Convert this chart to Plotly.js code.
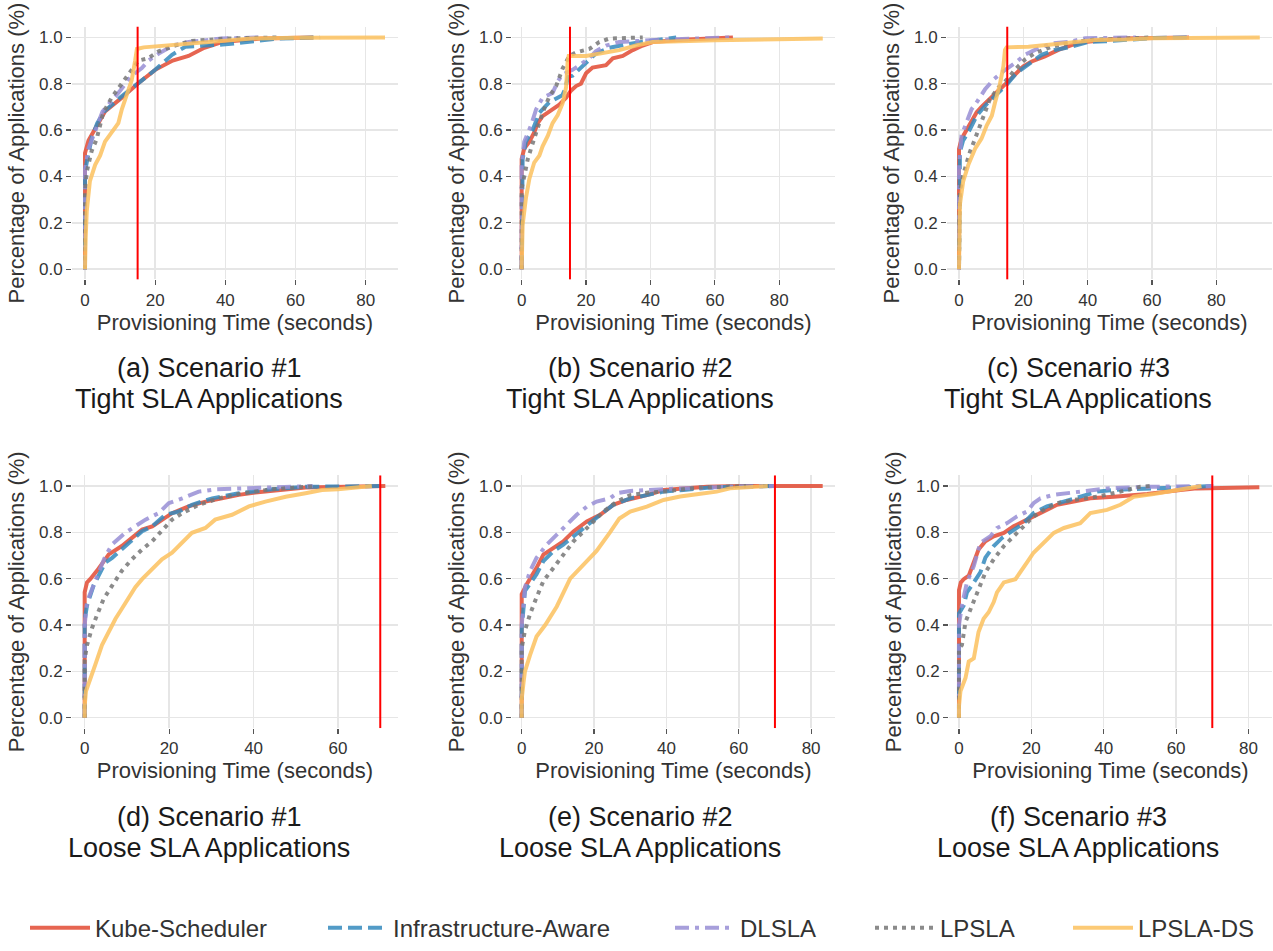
<!DOCTYPE html>
<html>
<head>
<meta charset="utf-8">
<script src="https://cdn.plot.ly/plotly-3.0.1.min.js"></script>
<style>html,body{margin:0;padding:0;background:#fff;}#chart{width:1273px;height:951px;}</style>
</head>
<body>
<div id="chart"></div>
<script>
// ---------------- DATA ----------------
const seriesNames = ['Kube-Scheduler', 'Infrastructure-Aware', 'DLSLA', 'LPSLA', 'LPSLA-DS'];
const captionLabels = ['(a) Scenario #1', '(b) Scenario #2', '(c) Scenario #3', '(d) Scenario #1', '(e) Scenario #2', '(f) Scenario #3'];
const captionSubs = ['Tight SLA Applications', 'Tight SLA Applications', 'Tight SLA Applications', 'Loose SLA Applications', 'Loose SLA Applications', 'Loose SLA Applications'];
const slaThreshold = [15, 15, 15, 70, 70, 70];
const xTickVals = [0, 20, 40, 60, 80];
const yTickVals = [0, 0.2, 0.4, 0.6, 0.8, 1.0];
const xTitle = 'Provisioning Time (seconds)';
const yTitle = 'Percentage of Applications (%)';

// (a) Scenario #1, tight SLA
const a_kube_t = [0, 0, 1, 2.4, 5.7, 10.5, 15, 20, 25, 29.5, 34, 39, 50, 65];
const a_kube_p = [0, 0.50, 0.555, 0.59, 0.68, 0.74, 0.80, 0.86, 0.90, 0.92, 0.955, 0.98, 0.995, 1.0];
const a_infra_t = [0, 0, 1, 2, 3.5, 5.5, 10, 15, 20, 24.8, 28.6, 40, 50, 55, 67];
const a_infra_p = [0, 0.42, 0.50, 0.57, 0.63, 0.68, 0.74, 0.80, 0.86, 0.925, 0.96, 0.97, 0.985, 0.995, 1.0];
const a_dlsla_t = [0, 0, 1, 3, 5, 10, 13, 16.2, 18.1, 21, 25, 29.5, 39, 50];
const a_dlsla_p = [0, 0.43, 0.52, 0.60, 0.68, 0.77, 0.83, 0.868, 0.90, 0.93, 0.965, 0.98, 0.995, 1.0];
const a_lpsla_t = [0, 0, 0.5, 1.4, 1.9, 3.3, 5.2, 7.6, 9.5, 11.4, 13.3, 15.2, 18, 21, 26.7, 30.5, 40, 55];
const a_lpsla_p = [0, 0.33, 0.42, 0.47, 0.51, 0.56, 0.675, 0.74, 0.78, 0.825, 0.86, 0.90, 0.91, 0.94, 0.97, 0.985, 0.995, 1.0];
const a_ds_t = [0, 0, 0.2, 0.5, 1.4, 2.9, 4.3, 5.7, 7.6, 9.5, 10.5, 11.9, 13.3, 14.3, 14.8, 16.7, 25, 34, 47.6, 60, 85.5];
const a_ds_p = [0, 0.02, 0.135, 0.25, 0.38, 0.45, 0.49, 0.55, 0.59, 0.63, 0.69, 0.75, 0.815, 0.90, 0.95, 0.957, 0.967, 0.98, 0.995, 0.998, 1.0];

// (b) Scenario #2, tight SLA
const b_kube_t = [0, 0, 0.8, 2.4, 3.9, 5, 6.5, 9.6, 11.7, 13.8, 15.3, 16.9, 18.4, 20, 22, 26.2, 28.3, 31.4, 34.5, 37.6, 40.7, 50, 65.6];
const b_kube_p = [0, 0.475, 0.52, 0.55, 0.59, 0.63, 0.66, 0.69, 0.71, 0.74, 0.77, 0.79, 0.80, 0.845, 0.87, 0.88, 0.91, 0.92, 0.945, 0.965, 0.98, 0.99, 1.0];
const b_infra_t = [0, 0, 0.3, 1.3, 3.4, 5.5, 8.6, 11.2, 12.6, 13.4, 14.4, 15.8, 18.4, 21, 23, 27.2, 32.4, 39.6, 48];
const b_infra_p = [0, 0.42, 0.475, 0.55, 0.60, 0.675, 0.72, 0.74, 0.75, 0.773, 0.83, 0.835, 0.87, 0.90, 0.93, 0.955, 0.97, 0.985, 1.0];
const b_dlsla_t = [0, 0, 0.8, 2.9, 4.5, 6.5, 9.6, 11.2, 12.7, 15.8, 17.9, 21, 23, 26.2, 30.3, 35.5, 42.7, 65];
const b_dlsla_p = [0, 0.45, 0.55, 0.62, 0.69, 0.74, 0.76, 0.81, 0.84, 0.86, 0.88, 0.91, 0.94, 0.965, 0.98, 0.985, 0.99, 1.0];
const b_lpsla_t = [0, 0, 0.8, 1.9, 2.9, 4.5, 6.5, 8.6, 10.7, 12.7, 14.8, 16.9, 21, 24.1, 27.2, 37.6];
const b_lpsla_p = [0, 0.35, 0.40, 0.475, 0.52, 0.59, 0.675, 0.745, 0.79, 0.865, 0.92, 0.935, 0.95, 0.98, 0.995, 1.0];
const b_ds_t = [0, 0, 0.3, 1.3, 2.4, 3.9, 5.5, 6.5, 8.1, 9.6, 11.2, 12.7, 13.8, 14.3, 14.6, 20, 24.1, 30.3, 35.5, 40.7, 52, 60, 93.5];
const b_ds_p = [0, 0.1, 0.19, 0.305, 0.39, 0.46, 0.49, 0.53, 0.575, 0.63, 0.665, 0.715, 0.785, 0.90, 0.92, 0.92, 0.93, 0.945, 0.965, 0.98, 0.985, 0.988, 0.995];

// (c) Scenario #3, tight SLA
const c_kube_t = [0, 0, 0.8, 1.9, 3.4, 5.5, 7, 10.2, 12.7, 14.9, 17.4, 20, 22.6, 26.7, 30.9, 35, 39.2, 50, 71.5];
const c_kube_p = [0, 0.518, 0.563, 0.59, 0.627, 0.677, 0.70, 0.74, 0.776, 0.805, 0.84, 0.875, 0.896, 0.918, 0.946, 0.967, 0.98, 0.995, 1.0];
const c_infra_t = [0, 0, 0.3, 1.3, 2.9, 5.5, 8.1, 11.2, 14.9, 17.9, 21.6, 25.7, 29.8, 35, 40.2, 45.4, 60, 71.5];
const c_infra_p = [0, 0.40, 0.506, 0.556, 0.59, 0.662, 0.705, 0.748, 0.797, 0.847, 0.882, 0.925, 0.946, 0.96, 0.98, 0.983, 0.997, 1.0];
const c_dlsla_t = [0, 0, 0.8, 2.4, 3.9, 5.5, 8.1, 10.7, 13.8, 17.4, 20.5, 23.6, 28.8, 34, 39.2, 55];
const c_dlsla_p = [0, 0.45, 0.577, 0.634, 0.69, 0.72, 0.776, 0.818, 0.854, 0.889, 0.925, 0.946, 0.974, 0.98, 0.996, 1.0];
const c_lpsla_t = [0, 0, 0.3, 1.3, 2.4, 3.4, 5, 6.5, 8.1, 9.6, 12.2, 14.9, 17.4, 20.5, 23.6, 28.8, 34, 40.2, 60];
const c_lpsla_p = [0, 0.30, 0.336, 0.407, 0.464, 0.506, 0.563, 0.62, 0.677, 0.733, 0.783, 0.818, 0.861, 0.904, 0.932, 0.96, 0.974, 0.989, 1.0];
const c_ds_t = [0, 0, 0.3, 1.3, 2.9, 5, 7, 8.6, 10.2, 11.2, 12.7, 13.8, 14.3, 14.8, 21.6, 31.9, 42.3, 51.6, 60, 93.5];
const c_ds_p = [0, 0.17, 0.28, 0.379, 0.45, 0.52, 0.563, 0.62, 0.662, 0.719, 0.797, 0.875, 0.946, 0.957, 0.96, 0.974, 0.989, 0.991, 0.996, 1.0];

// (d) Scenario #1, loose SLA
const d_kube_t = [0, 0, 0.55, 1.3, 2.9, 4.5, 5.7, 8.8, 11.2, 13.6, 16, 18.3, 20.7, 24.6, 28.6, 32.5, 36.5, 40.4, 46, 52.3, 71.2];
const d_kube_p = [0, 0.541, 0.584, 0.598, 0.634, 0.677, 0.705, 0.741, 0.776, 0.812, 0.826, 0.855, 0.883, 0.912, 0.933, 0.947, 0.962, 0.972, 0.983, 0.994, 1.0];
const d_infra_t = [0, 0, 0.55, 1.3, 2.1, 3.3, 4.9, 6.5, 8.8, 11.2, 13.6, 16, 19.1, 22.3, 25.4, 30.2, 36.5, 44.4, 52.3, 71];
const d_infra_p = [0, 0.42, 0.484, 0.527, 0.57, 0.613, 0.67, 0.69, 0.726, 0.762, 0.805, 0.826, 0.876, 0.89, 0.919, 0.947, 0.969, 0.986, 0.997, 1.0];
const d_dlsla_t = [0, 0, 0.55, 1.7, 3.3, 4.9, 6.5, 9.6, 12, 14.4, 17.5, 19.9, 23.1, 27, 31, 36.5, 44.4, 54];
const d_dlsla_p = [0, 0.40, 0.50, 0.556, 0.627, 0.698, 0.748, 0.798, 0.826, 0.855, 0.883, 0.926, 0.947, 0.976, 0.986, 0.99, 0.997, 1.0];
const d_lpsla_t = [0, 0, 0.55, 1.7, 2.9, 4.5, 6.5, 8.8, 11.2, 13.6, 16, 18.3, 20.7, 23.1, 27, 31.7, 36.5, 44.4, 52.3, 55];
const d_lpsla_p = [0, 0.25, 0.313, 0.385, 0.442, 0.513, 0.57, 0.634, 0.684, 0.726, 0.762, 0.805, 0.855, 0.883, 0.919, 0.947, 0.966, 0.986, 0.994, 1.0];
const d_ds_t = [0, 0, 0.3, 1.3, 2.5, 4.1, 5.7, 7.3, 8.8, 10.4, 12, 13.6, 16, 18.3, 20.7, 23.1, 25.4, 28.6, 30.9, 34.9, 38.9, 42.8, 47.6, 52.3, 56.2, 60, 68];
const d_ds_p = [0, 0.05, 0.114, 0.171, 0.228, 0.313, 0.37, 0.427, 0.47, 0.513, 0.563, 0.598, 0.641, 0.684, 0.712, 0.755, 0.798, 0.819, 0.855, 0.876, 0.912, 0.933, 0.954, 0.969, 0.983, 0.986, 1.0];

// (e) Scenario #2, loose SLA
const e_kube_t = [0, 0, 1.4, 2.8, 4.1, 6, 8.8, 11.5, 14.3, 18, 21.7, 25.3, 29, 34.6, 39.2, 44.7, 51.2, 60, 83.2];
const e_kube_p = [0, 0.533, 0.576, 0.611, 0.647, 0.704, 0.733, 0.761, 0.804, 0.847, 0.876, 0.919, 0.94, 0.961, 0.983, 0.99, 0.997, 1.0, 1.0];
const e_infra_t = [0, 0, 0.9, 2.3, 4.1, 6, 8.8, 11.5, 14.3, 18, 21.7, 25.3, 30, 34.6, 39.2, 44.7, 51.2, 57.6, 70.5];
const e_infra_p = [0, 0.38, 0.547, 0.576, 0.619, 0.676, 0.719, 0.747, 0.783, 0.833, 0.876, 0.919, 0.947, 0.961, 0.976, 0.983, 0.993, 0.997, 1.0];
const e_dlsla_t = [0, 0, 0.9, 2.3, 4.1, 6.9, 9.7, 12.4, 15.2, 18, 20.7, 24.4, 26.3, 30, 34.6, 43.8, 57.6, 70];
const e_dlsla_p = [0, 0.40, 0.561, 0.633, 0.69, 0.747, 0.79, 0.833, 0.876, 0.911, 0.933, 0.947, 0.969, 0.979, 0.983, 0.99, 0.997, 1.0];
const e_lpsla_t = [0, 0, 0.9, 2.3, 4.1, 6, 8.8, 11.5, 14.3, 17.1, 19.8, 22.6, 26.3, 30, 34.6, 39.2, 48.4, 62];
const e_lpsla_p = [0, 0.30, 0.376, 0.447, 0.519, 0.59, 0.647, 0.704, 0.761, 0.804, 0.847, 0.89, 0.933, 0.961, 0.971, 0.976, 0.993, 1.0];
const e_ds_t = [0, 0, 0.5, 0.9, 2.3, 4.1, 6.5, 9.7, 13.4, 17, 20.7, 24.4, 27, 30, 34.6, 39.2, 43.8, 48.4, 53.9, 57.6, 63.1, 68];
const e_ds_p = [0, 0.08, 0.15, 0.2, 0.27, 0.35, 0.4, 0.48, 0.6, 0.66, 0.72, 0.8, 0.86, 0.89, 0.911, 0.94, 0.955, 0.965, 0.976, 0.99, 0.997, 1.0];

// (f) Scenario #3, loose SLA
const f_kube_t = [0, 0, 0.5, 1.3, 2.7, 4.1, 5.4, 7.3, 9.6, 12.4, 15.1, 18.8, 22.5, 27.1, 31.7, 36.3, 42.8, 52, 61.2, 65.8, 83];
const f_kube_p = [0, 0.55, 0.584, 0.598, 0.613, 0.67, 0.726, 0.762, 0.783, 0.798, 0.826, 0.855, 0.883, 0.919, 0.933, 0.947, 0.954, 0.966, 0.983, 0.99, 0.995];
const f_infra_t = [0, 0, 1.3, 2.2, 4.1, 5.9, 7.3, 9.6, 11.9, 15.1, 17.9, 20.6, 24.3, 28.9, 33.5, 38.2, 42.8, 52, 61.2, 70];
const f_infra_p = [0, 0.45, 0.484, 0.541, 0.584, 0.627, 0.691, 0.741, 0.776, 0.812, 0.84, 0.883, 0.912, 0.933, 0.954, 0.976, 0.983, 0.99, 0.997, 1.0];
const f_dlsla_t = [0, 0, 0.8, 2.2, 4.1, 5.9, 8.7, 10.5, 13.3, 16, 18.8, 20.6, 22.5, 26.2, 33.5, 40.9, 52, 70.3];
const f_dlsla_p = [0, 0.40, 0.484, 0.584, 0.655, 0.755, 0.783, 0.819, 0.84, 0.869, 0.89, 0.926, 0.947, 0.962, 0.976, 0.99, 0.997, 1.0];
const f_lpsla_t = [0, 0, 0.8, 1.8, 3.6, 5.4, 7.3, 9.6, 12.4, 15.1, 17.9, 20.6, 23.4, 27.1, 31.7, 38.2, 44.6, 50.1, 52.8];
const f_lpsla_p = [0, 0.30, 0.313, 0.413, 0.484, 0.555, 0.627, 0.684, 0.741, 0.783, 0.826, 0.869, 0.897, 0.926, 0.94, 0.954, 0.976, 0.997, 1.0];
const f_ds_t = [0, 0, 0.4, 1.8, 2.7, 4.1, 5.4, 6.8, 8.2, 9.6, 10.5, 12.4, 15.6, 17, 18.8, 20.6, 23.4, 26.2, 29, 33.5, 36.3, 40.9, 44.6, 48.3, 53.8, 61.2, 65.8, 67];
const f_ds_p = [0, 0.05, 0.114, 0.171, 0.242, 0.256, 0.37, 0.427, 0.455, 0.499, 0.541, 0.584, 0.598, 0.627, 0.67, 0.712, 0.755, 0.798, 0.819, 0.84, 0.883, 0.897, 0.919, 0.954, 0.966, 0.983, 0.997, 1.0];

// ---------------- BUILD ----------------
const panelSeries = [
  [[a_kube_t, a_kube_p], [a_infra_t, a_infra_p], [a_dlsla_t, a_dlsla_p], [a_lpsla_t, a_lpsla_p], [a_ds_t, a_ds_p]],
  [[b_kube_t, b_kube_p], [b_infra_t, b_infra_p], [b_dlsla_t, b_dlsla_p], [b_lpsla_t, b_lpsla_p], [b_ds_t, b_ds_p]],
  [[c_kube_t, c_kube_p], [c_infra_t, c_infra_p], [c_dlsla_t, c_dlsla_p], [c_lpsla_t, c_lpsla_p], [c_ds_t, c_ds_p]],
  [[d_kube_t, d_kube_p], [d_infra_t, d_infra_p], [d_dlsla_t, d_dlsla_p], [d_lpsla_t, d_lpsla_p], [d_ds_t, d_ds_p]],
  [[e_kube_t, e_kube_p], [e_infra_t, e_infra_p], [e_dlsla_t, e_dlsla_p], [e_lpsla_t, e_lpsla_p], [e_ds_t, e_ds_p]],
  [[f_kube_t, f_kube_p], [f_infra_t, f_infra_p], [f_dlsla_t, f_dlsla_p], [f_lpsla_t, f_lpsla_p], [f_ds_t, f_ds_p]]
];

// styles
const W = 1273, H = 951;
const colors = ['#E24A33', '#348ABD', '#988ED5', '#777777', '#FBC15E'];
const dashes = ['solid', '14px,6px', '14px,6px,4px,6px', '4px,5px', 'solid'];
const colPx = [[72, 398], [512, 835], [947, 1272], [72, 398], [512, 835], [949, 1272]];
const rowPx = [[27, 282], [27, 282], [27, 282], [480, 735], [480, 735], [480, 735]];
const xRanges = [[-3.7, 89.2], [-3.0, 97.3], [-3.73, 97.3], [-3.0, 74.2], [-2.68, 86.6], [-2.76, 86.5]];
const yRanges = [[-0.044, 1.046], [-0.044, 1.046], [-0.044, 1.046], [-0.045, 1.0458], [-0.045, 1.0458], [-0.045, 1.0458]];
const captionX = [209, 640, 1078, 209, 640, 1078];
const captionY1 = [372, 372, 372, 825, 825, 825];
const captionY2 = [403, 403, 403, 856, 856, 856];
const legendX = [25, 323, 670, 870, 1068];
const legendNames = ['legend', 'legend2', 'legend3', 'legend4', 'legend5'];

const traces = [];
const layout = {
  width: W, height: H,
  margin: {l: 0, r: 0, t: 0, b: 0},
  paper_bgcolor: '#ffffff', plot_bgcolor: '#ffffff',
  font: {family: '"Liberation Sans", Arial, sans-serif', color: '#333333'},
  showlegend: true,
  shapes: [], annotations: []
};
legendNames.forEach((ln, j) => {
  layout[ln] = {
    orientation: 'h', x: legendX[j] / W, xanchor: 'left', y: 1 - 937 / H, yanchor: 'middle',
    font: {size: 24, color: '#333333'}, itemwidth: 60, bgcolor: 'rgba(0,0,0,0)', borderwidth: 0
  };
});

panelSeries.forEach((series, i) => {
  const n = i + 1;
  const xa = 'x' + (n === 1 ? '' : n), ya = 'y' + (n === 1 ? '' : n);
  const xk = 'xaxis' + (n === 1 ? '' : n), yk = 'yaxis' + (n === 1 ? '' : n);
  series.forEach((s, j) => {
    traces.push({
      type: 'scatter', mode: 'lines', x: s[0], y: s[1],
      xaxis: xa, yaxis: ya, name: seriesNames[j], legendgroup: seriesNames[j],
      legend: legendNames[j],
      showlegend: i === 0,
      line: {color: colors[j], width: 4, dash: dashes[j]},
      opacity: 0.85, hoverinfo: 'skip'
    });
  });
  const common = {
    showgrid: true, gridcolor: '#e6e6e6', gridwidth: 1.5, zeroline: false, showline: false,
    ticks: 'outside', ticklen: 5, tickwidth: 1.2, tickcolor: '#555555',
    tickfont: {size: 17, color: '#333333'}, fixedrange: true
  };
  layout[xk] = Object.assign({}, common, {
    domain: [colPx[i][0] / W, colPx[i][1] / W], range: xRanges[i], anchor: ya,
    tickmode: 'array', tickvals: xTickVals,
    title: {text: xTitle, font: {size: 22, color: '#333333'}, standoff: 5}
  });
  layout[yk] = Object.assign({}, common, {
    domain: [1 - rowPx[i][1] / H, 1 - rowPx[i][0] / H], range: yRanges[i], anchor: xa,
    tickmode: 'array', tickvals: yTickVals, tickformat: '.1f',
    title: {text: yTitle, font: {size: 22, color: '#333333'}, standoff: 8}
  });
  layout.shapes.push({
    type: 'line', xref: xa, yref: ya + ' domain', x0: slaThreshold[i], x1: slaThreshold[i], y0: 0, y1: 1,
    line: {color: '#ff0000', width: 2}, layer: 'above'
  });
  layout.annotations.push({
    xref: 'paper', yref: 'paper', x: captionX[i] / W, y: 1 - captionY1[i] / H,
    xanchor: 'center', yanchor: 'middle', showarrow: false,
    text: captionLabels[i], font: {size: 27, color: '#1a1a1a'}
  });
  layout.annotations.push({
    xref: 'paper', yref: 'paper', x: captionX[i] / W, y: 1 - captionY2[i] / H,
    xanchor: 'center', yanchor: 'middle', showarrow: false,
    text: captionSubs[i], font: {size: 27, color: '#1a1a1a'}
  });
});

Plotly.newPlot('chart', traces, layout, {staticPlot: true, displayModeBar: false});
</script>
</body>
</html>
